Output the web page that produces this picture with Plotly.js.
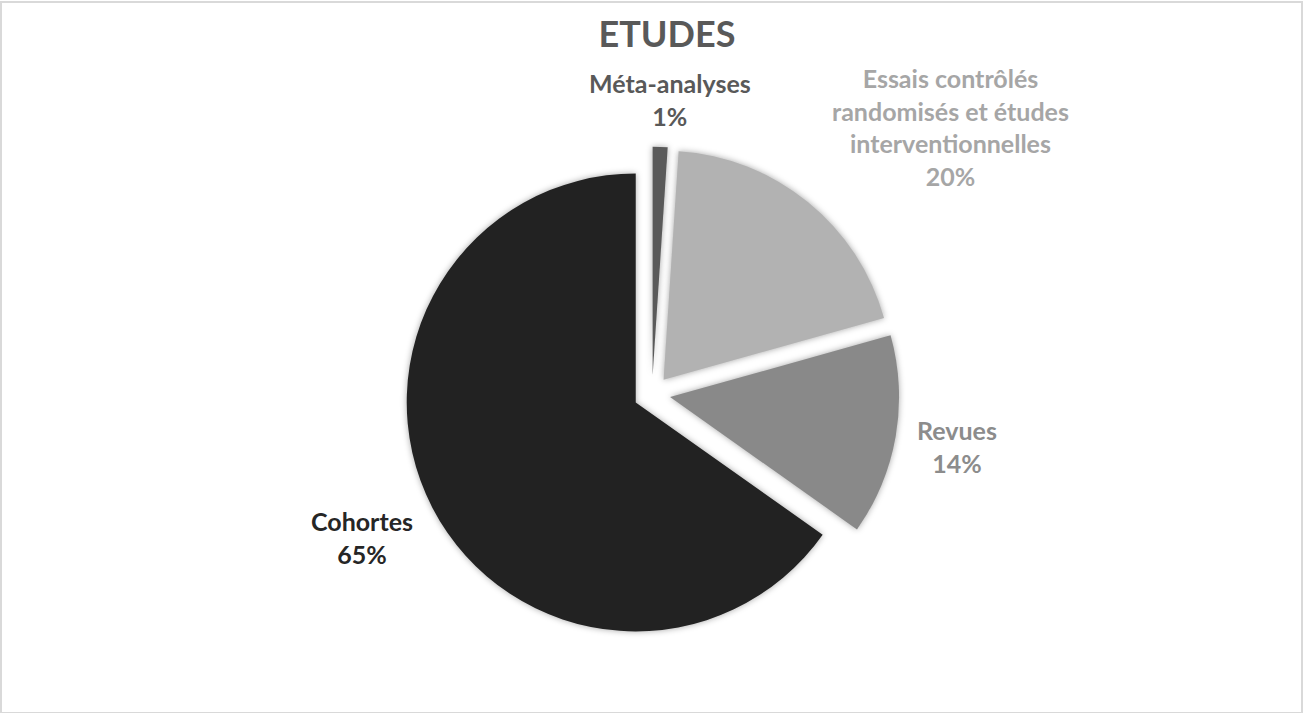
<!DOCTYPE html>
<html>
<head>
<meta charset="utf-8">
<script src="https://cdn.plot.ly/plotly-3.0.1.min.js"></script>
<style>
html,body{margin:0;padding:0;background:#fff;}
#frame{position:absolute;left:0;top:1px;width:1299px;height:709px;border:2px solid #d9d9d9;}
#chart{width:1299px;height:709px;}
#chart .slice path.surface{filter:drop-shadow(0px 0px 3px rgba(0,0,0,0.35));}
</style>
</head>
<body>
<div id="frame"><div id="chart"></div></div>
<script>
const chartTitle = "ETUDES";
const categories = ["Méta-analyses", "Essais contrôlés<br>randomisés et études<br>interventionnelles", "Revues", "Cohortes"];
const values = [1.05, 19.6, 14.15, 65.2];
const sliceColors = ["#5a5a5a", "#b2b2b2", "#898989", "#222222"];
const labelColors = ["#595959", "#a6a6a6", "#8c8c8c", "#262626"];

// layout positions (chart pixel coords) for the data labels
const labelPos = [[668, 96], [948, 124], [955, 443], [360, 534]];

const W = 1299, H = 709;
const cx = 650, cy = 391, r = 229, pull = 0.08;
const half = r * (1 + pull);
const FONT = "Lato, 'Open Sans', sans-serif";

const total = values.reduce((a, b) => a + b, 0);

const trace = {
  type: "pie",
  labels: categories,
  values: values,
  sort: false,
  direction: "clockwise",
  rotation: 0,
  pull: values.map(() => pull),
  marker: {colors: sliceColors, line: {width: 0}},
  textinfo: "none",
  showlegend: false,
  hoverinfo: "none",
  domain: {x: [(cx - half) / W, (cx + half) / W], y: [1 - (cy + half) / H, 1 - (cy - half) / H]}
};

const annotations = categories.map((c, i) => ({
  xref: "paper", yref: "paper",
  x: labelPos[i][0] / W, y: 1 - labelPos[i][1] / H,
  xanchor: "center", yanchor: "middle", align: "center",
  showarrow: false,
  text: "<b>" + c + "<br>" + Math.round(100 * values[i] / total) + "%</b>",
  font: {family: FONT, size: 25, color: labelColors[i]}
}));

const layout = {
  width: W, height: H,
  margin: {l: 0, r: 0, t: 0, b: 0},
  paper_bgcolor: "#ffffff",
  title: {text: "<b>" + chartTitle + "</b>", x: 665 / W, xanchor: "center", y: 1 - 31 / H, yanchor: "middle",
          font: {family: FONT, size: 36, color: "#595959"}},
  annotations: annotations,
  font: {family: FONT}
};

Plotly.newPlot("chart", [trace], layout, {displayModeBar: false, staticPlot: true});
</script>
</body>
</html>
